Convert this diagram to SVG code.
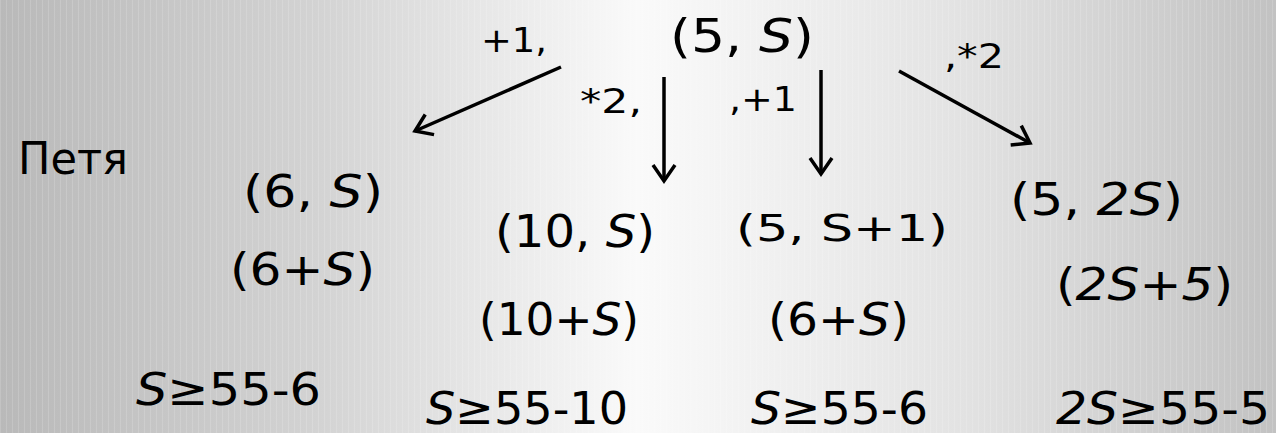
<svg xmlns="http://www.w3.org/2000/svg" width="1276" height="433" viewBox="0 0 1276 433">
<defs>
<linearGradient id="bg" x1="0" y1="0" x2="1" y2="0">
<stop offset="0" stop-color="#b9b9b9"/>
<stop offset="0.25" stop-color="#d3d3d3"/>
<stop offset="0.5" stop-color="#fafafa"/>
<stop offset="0.75" stop-color="#e3e3e3"/>
<stop offset="1" stop-color="#c2c2c2"/>
</linearGradient>
<pattern id="stripes" width="6" height="433" patternUnits="userSpaceOnUse">
<rect x="0" y="0" width="1" height="433" fill="#ffffff" opacity="0.15"/>
</pattern>
<marker id="arr" markerUnits="userSpaceOnUse" markerWidth="32" markerHeight="32" refX="0" refY="0" viewBox="-24 -16 28 32" orient="auto">
<path d="M-16,-11 L0,0 L-16,11" fill="none" stroke="#000" stroke-width="3.5"/>
</marker>
<style>
text{font-family:"DejaVu Sans","Verdana",sans-serif;fill:#000}
.big{font-size:44px}
.top{font-size:46px}
.mid{font-size:38px}
.lbl{font-size:34px}
.it{font-style:italic}
.edge{stroke:#000;stroke-width:3.5;fill:none;marker-end:url(#arr)}
</style>
</defs>
<rect x="0" y="0" width="1276" height="433" fill="url(#bg)"/>
<rect x="0" y="0" width="1276" height="433" fill="url(#stripes)"/>

<g id="connectors">
<line class="edge" x1="561" y1="67" x2="415" y2="131"/>
<line class="edge" x1="664" y1="77" x2="664" y2="181"/>
<line class="edge" x1="821" y1="70" x2="821" y2="174"/>
<line class="edge" x1="899" y1="71" x2="1030" y2="143"/>
</g>

<g id="edge-labels">
<text class="lbl" x="481" y="52" textLength="66" lengthAdjust="spacingAndGlyphs">+1,</text>
<text class="lbl" x="580" y="113" textLength="62" lengthAdjust="spacingAndGlyphs">*2,</text>
<text class="lbl" x="729" y="111" textLength="68" lengthAdjust="spacingAndGlyphs">,+1</text>
<text class="lbl" x="944" y="68" textLength="60" lengthAdjust="spacingAndGlyphs">,*2</text>
</g>

<g id="root">
<text class="top" x="670" y="52" textLength="144" lengthAdjust="spacingAndGlyphs">(5, <tspan class="it">S</tspan>)</text>
</g>

<g id="label-petya">
<text class="big" x="18" y="174" textLength="110" lengthAdjust="spacingAndGlyphs">Петя</text>
</g>

<g id="node-6S">
<text class="big" x="243" y="207" textLength="140" lengthAdjust="spacingAndGlyphs">(6, <tspan class="it">S</tspan>)</text>
<text class="big" x="230" y="285" textLength="145" lengthAdjust="spacingAndGlyphs">(6+<tspan class="it">S</tspan>)</text>
<text class="big" x="136" y="405" textLength="185" lengthAdjust="spacingAndGlyphs"><tspan class="it">S</tspan>≥55-6</text>
</g>

<g id="node-10S">
<text class="big" x="495" y="247" textLength="160" lengthAdjust="spacingAndGlyphs">(10, <tspan class="it">S</tspan>)</text>
<text class="big" x="479" y="335" textLength="160" lengthAdjust="spacingAndGlyphs">(10+<tspan class="it">S</tspan>)</text>
<text class="big" x="426" y="424" textLength="202" lengthAdjust="spacingAndGlyphs"><tspan class="it">S</tspan>≥55-10</text>
</g>

<g id="node-5S1">
<text class="mid" x="736" y="241" textLength="212" lengthAdjust="spacingAndGlyphs">(5, S+1)</text>
<text class="big" x="768" y="335" textLength="141" lengthAdjust="spacingAndGlyphs">(6+<tspan class="it">S</tspan>)</text>
<text class="big" x="751" y="424" textLength="177" lengthAdjust="spacingAndGlyphs"><tspan class="it">S</tspan>≥55-6</text>
</g>

<g id="node-52S">
<text class="big" x="1010" y="215" textLength="173" lengthAdjust="spacingAndGlyphs">(5, <tspan class="it">2S</tspan>)</text>
<text class="big" x="1056" y="300" textLength="177" lengthAdjust="spacingAndGlyphs">(<tspan class="it">2S+5</tspan>)</text>
<text class="big" x="1056" y="424" textLength="214" lengthAdjust="spacingAndGlyphs"><tspan class="it">2S</tspan>≥55-5</text>
</g>
</svg>
